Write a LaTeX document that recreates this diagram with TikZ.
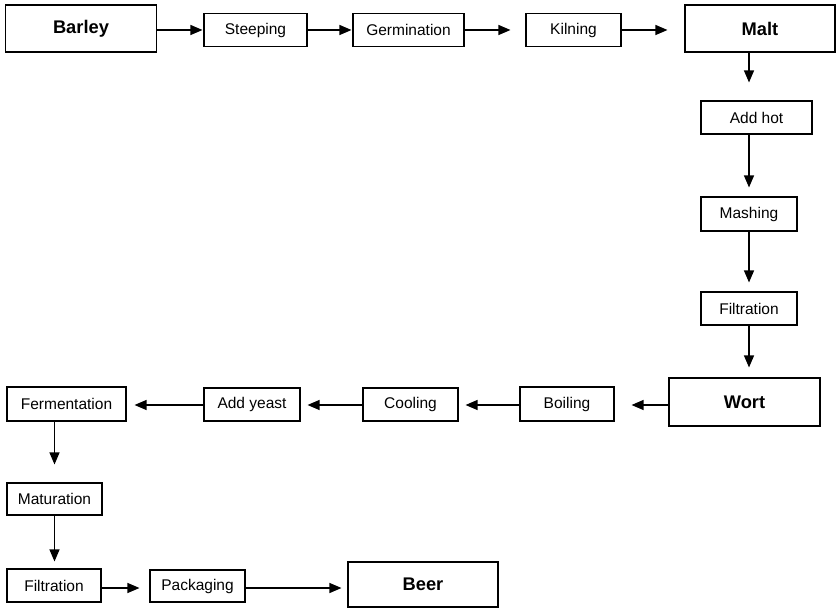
\documentclass[tikz,border=0pt]{standalone}
\usepackage{fontspec}
\setmainfont{Liberation Sans}
\usetikzlibrary{arrows.meta}
\tikzset{
  stepbox/.style={draw, line width=1.1pt, inner sep=0pt, minimum height=33pt,
    font=\fontsize{15.5}{18}\selectfont},
  endbox/.style={draw, line width=1.1pt, inner sep=0pt, minimum width=151pt,
    minimum height=47pt, font=\bfseries\fontsize{18.3}{22}\selectfont},
  flow/.style={-{Triangle[length=12pt,width=10pt]}, line width=1.2pt}
}
\begin{document}
\begin{tikzpicture}[x=1pt,y=-1pt]
    \useasboundingbox (0,0) rectangle (837,609);
    % top row: barley to malt
    \node[endbox] (barley) at (81,28.5) {Barley};
    \node[stepbox, minimum width=103pt] (steeping) at (255.5,30) {Steeping};
    \node[stepbox, minimum width=111pt] (germination) at (408.5,30) {Germination};
    \node[stepbox, minimum width=95pt] (kilning) at (573.5,30) {Kilning};
    \node[endbox, minimum width=150pt] (malt) at (760,28.5) {Malt};
    % right column: malt to wort
    \node[stepbox, minimum width=111pt] (addhot) at (756.5,117.5) {Add hot};
    \node[stepbox, minimum width=96pt, minimum height=34pt] (mashing) at (749,214) {Mashing};
    \node[stepbox, minimum width=96pt] (filtration) at (749,308.5) {Filtration};
    \node[endbox, minimum height=48pt] (wort) at (744.5,402) {Wort};
    % middle row: wort to fermentation
    \node[stepbox, minimum width=94pt, minimum height=34pt] (boiling) at (567,404) {Boiling};
    \node[stepbox, minimum width=95pt] (cooling) at (410.5,404.5) {Cooling};
    \node[stepbox, minimum width=96pt] (addyeast) at (252,404.5) {Add yeast};
    \node[stepbox, minimum width=119pt, minimum height=34pt] (fermentation) at (66.5,404) {Fermentation};
    % bottom: maturation to beer
    \node[stepbox, minimum width=95pt, minimum height=32pt] (maturation) at (54.5,499) {Maturation};
    \node[stepbox, minimum width=94pt] (filtrationb) at (54,585.5) {Filtration};
    \node[stepbox, minimum width=95pt, minimum height=32pt] (packaging) at (197.5,586) {Packaging};
    \node[endbox, minimum width=150pt, minimum height=45pt] (beer) at (423,584.5) {Beer};

    \draw[flow, shorten >=1pt] (barley.east |- steeping) -- (steeping);
    \draw[flow, shorten >=1pt] (steeping) -- (germination);
    \draw[flow, shorten >=15pt] (germination) -- (kilning);
    \draw[flow, shorten >=17pt] (kilning) -- (malt.west |- kilning);
    \draw[flow, shorten >=18pt] (malt.south -| mashing) -- (addhot.north -| mashing);
    \draw[flow, shorten >=9pt] (addhot.south -| mashing) -- (mashing);
    \draw[flow, shorten >=9pt] (mashing) -- (filtration);
    \draw[flow, shorten >=10pt] (filtration) -- (wort.north -| filtration);
    \draw[flow, shorten >=17pt] (wort.west |- 0,405) -- (boiling.east |- 0,405);
    \draw[flow, shorten >=7pt] (boiling.west |- 0,405) -- (cooling.east |- 0,405);
    \draw[flow, shorten >=7pt] (cooling.west |- 0,405) -- (addyeast.east |- 0,405);
    \draw[flow, shorten >=8pt] (addyeast.west |- 0,405) -- (fermentation.east |- 0,405);
    \draw[flow, shorten >=18pt] (fermentation.south -| maturation) -- (maturation);
    \draw[flow, shorten >=7pt] (maturation) -- (filtrationb.north -| maturation);
    \draw[flow, shorten >=10pt] (filtrationb.east |- 0,588) -- (packaging.west |- 0,588);
    \draw[flow, shorten >=6pt] (packaging.east |- 0,588) -- (beer.west |- 0,588);
\end{tikzpicture}
\end{document}
